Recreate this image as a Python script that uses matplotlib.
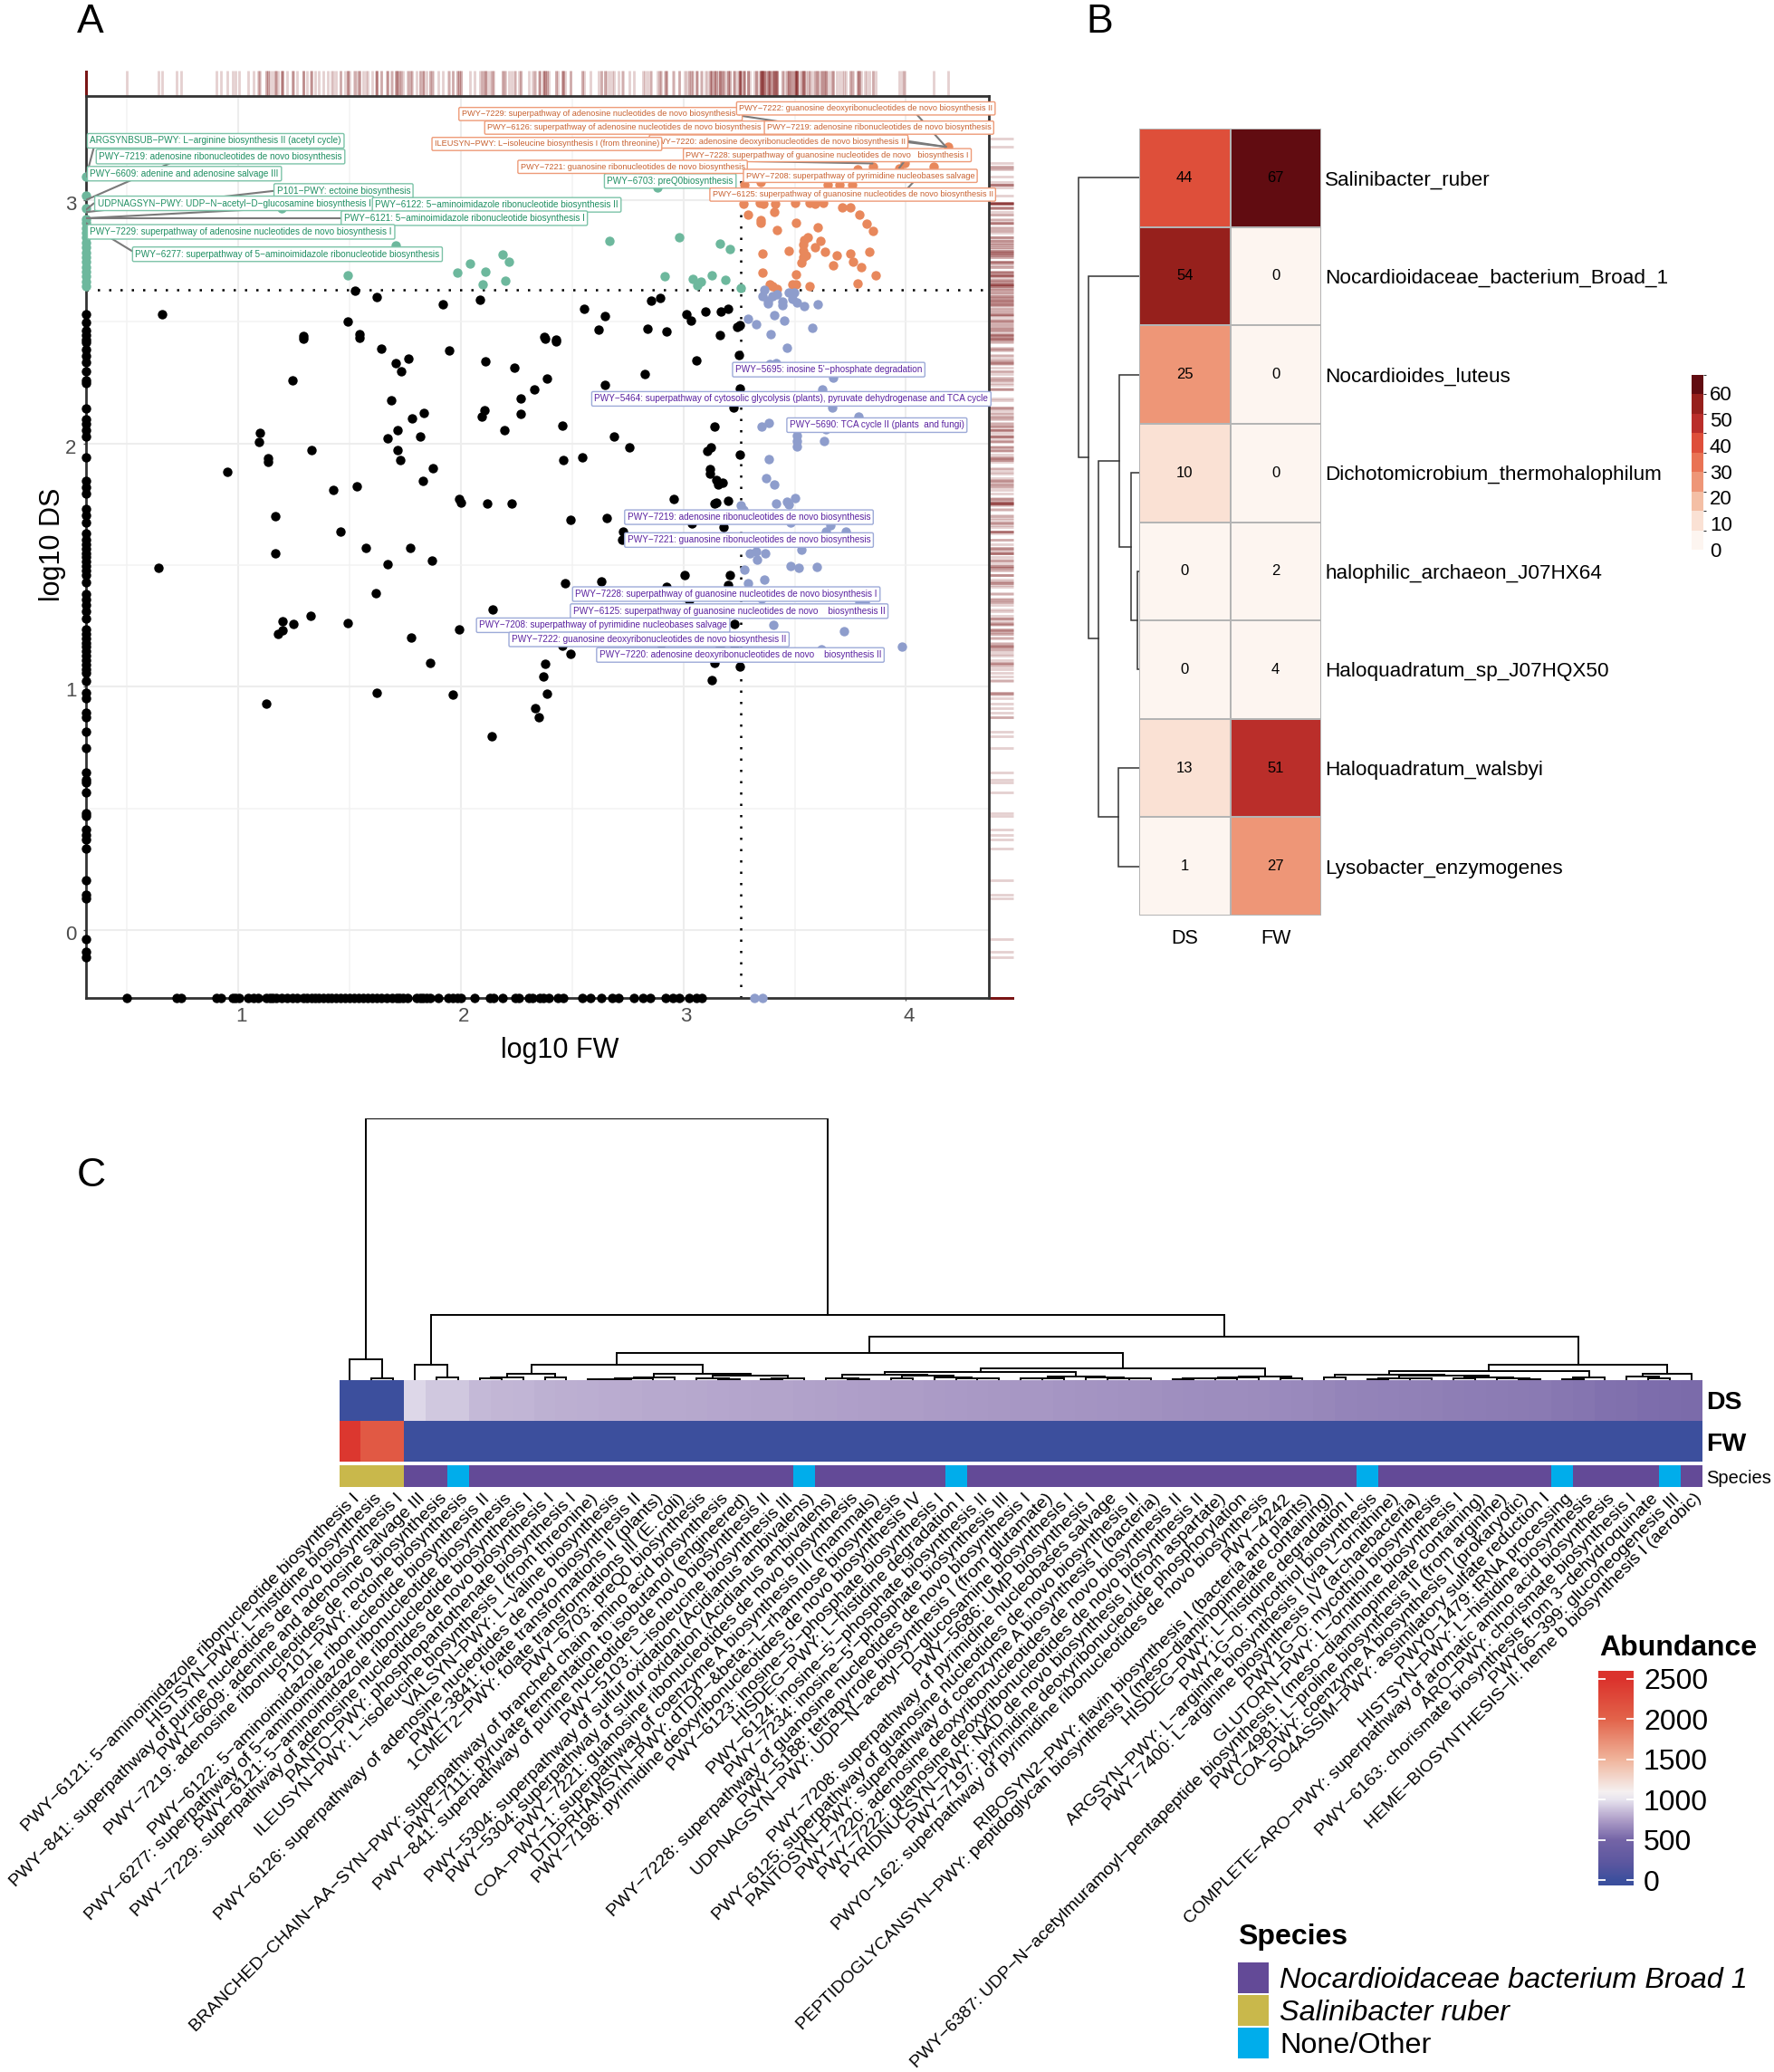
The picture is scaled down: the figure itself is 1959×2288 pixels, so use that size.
import numpy as np
import matplotlib
matplotlib.use("Agg")
import matplotlib.pyplot as plt
from matplotlib.colors import ListedColormap, BoundaryNorm, LinearSegmentedColormap, Normalize
from matplotlib.patches import Rectangle
from matplotlib.ticker import MultipleLocator
from matplotlib.cm import ScalarMappable
from matplotlib.transforms import ScaledTranslation

plt.rcParams['font.family'] = ['Liberation Sans', 'DejaVu Sans']

W, H = 1959, 2288

# ---- panel A: pathways, log10 FW against log10 DS
xmin, xmax = 0.315, 4.373
ymin, ymax = -0.278, 3.427
x_cut = 3.258
y_cut = 2.632

black_pts = [
    (0.64,1.49),(0.95,1.885),(1.244,2.259),(1.096,2.043),(1.094,2.007),(1.134,1.94),(1.133,1.924),(1.328,1.971),
    (1.428,1.808),(1.533,1.824),(1.167,1.701),(1.165,1.55),(1.457,1.637),(1.573,1.57),(1.672,1.502),(1.772,1.57),
    (1.871,1.52),(1.619,1.385),(1.775,1.203),(1.862,1.097),(1.623,0.975),(1.962,0.969),(2.138,0.797),(1.123,0.932),
    (1.325,1.29),(1.249,1.259),(1.2,1.27),(1.2,1.234),(1.179,1.216),(1.49,1.261),(1.993,1.237),(2.144,1.318),
    (1.993,1.772),(2.001,1.757),(2.117,1.754),(1.873,1.899),(1.831,1.845),(1.726,1.933),(1.715,1.971),(1.671,2.02),
    (1.714,2.054),(1.818,2.027),(1.78,2.104),(1.835,2.126),(1.686,2.176),(1.707,2.329),(1.73,2.297),(1.764,2.349),
    (1.642,2.39),(1.946,2.381),(2.11,2.338),(2.107,2.138),(2.093,2.112),(2.195,2.056),(1.291,2.431),(1.545,2.435),
    (0.655,2.53),(1.524,2.627),(1.623,2.60),(1.92,2.571),(2.086,2.589),(1.493,2.50),(1.543,2.447),(1.291,2.441),
    (2.555,2.552),(2.646,2.524),(2.617,2.467),(2.376,2.436),(2.427,2.427),(2.854,2.588),(2.897,2.598),(3.012,2.529),
    (3.032,2.503),(3.099,2.542),(3.168,2.54),(3.202,2.552),(3.243,2.477),(3.255,2.486),(2.837,2.47),(2.926,2.458),
    (3.166,2.444),(2.378,2.429),(2.428,2.419),(2.239,2.31),(2.385,2.265),(2.33,2.221),(2.267,2.183),(2.268,2.122),
    (2.455,2.072),(2.647,2.242),(2.827,2.284),(2.686,2.028),(2.759,1.983),(3.058,2.341),(3.249,2.363),(3.255,2.227),
    (3.225,2.148),(3.139,2.069),(3.124,1.985),(3.108,1.969),(3.255,1.955),(2.46,1.932),(2.546,1.942),(3.119,1.896),
    (3.121,1.875),(3.146,1.848),(3.177,1.837),(3.156,1.831),(2.23,1.753),(2.956,1.77),(3.139,1.753),(3.146,1.756),
    (3.199,1.764),(2.493,1.685),(2.656,1.695),(3.039,1.67),(3.181,1.656),(2.729,1.637),(2.725,1.606),(3.004,1.461),
    (3.209,1.46),(3.202,1.42),(2.47,1.426),(2.631,1.434),(2.923,1.41),(3.026,1.355),(2.353,1.225),(2.898,1.176),
    (2.456,1.17),(3.23,1.26),(2.893,1.28),(3.176,1.28),(3.164,1.17),(3.229,1.157),(2.493,1.135),(3.139,1.099),
    (3.254,1.085),(2.38,1.094),(2.37,1.042),(3.126,1.027),(2.388,0.973),(2.332,0.912),(2.351,0.876),
]

# pathways absent from FW sit on the left edge, absent from DS on the bottom edge
black_left_y = [-0.11,-0.09,-0.036,0.13,0.147,0.207,0.335,0.372,0.39,0.414,0.47,0.48,0.565,0.606,0.62,0.647,0.75,
    0.817,0.876,0.894,0.955,0.975,1.023,1.056,1.074,1.092,1.11,1.128,1.146,1.164,1.182,1.2,1.218,1.236,1.28,1.31,
    1.335,1.36,1.38,1.428,1.46,1.478,1.496,1.514,1.532,1.55,1.568,1.586,1.604,1.63,1.676,1.703,1.73,1.793,1.82,
    1.847,1.942,2.027,2.054,2.081,2.1,2.144,2.246,2.26,2.297,2.333,2.36,2.387,2.414,2.426,2.444,2.463,2.496,2.531]
black_bottom_x = [0.5,0.724,0.744,0.9,0.92,0.974,0.988,1.004,1.042,1.069,1.089,1.125,1.14,1.155,1.17,1.195,1.22,
    1.245,1.265,1.29,1.31,1.33,1.345,1.36,1.38,1.4,1.42,1.44,1.46,1.48,1.5,1.52,1.54,1.56,1.58,1.6,1.62,1.64,1.665,
    1.69,1.71,1.725,1.74,1.76,1.8,1.815,1.83,1.845,1.86,1.9,1.945,1.965,1.985,2.0,2.06,2.13,2.146,2.187,2.245,2.262,
    2.304,2.32,2.353,2.37,2.395,2.436,2.461,2.544,2.583,2.631,2.68,2.71,2.777,2.818,2.852,2.918,2.951,2.981,3.026,
    3.059,3.084]

green_pts = [
    (1.493,2.69),(1.709,2.812),(1.983,2.703),(2.04,2.738),(2.109,2.705),(2.189,2.777),(2.217,2.745),(2.198,2.668),
    (2.098,2.652),(2.666,2.832),(1.194,2.964),(2.882,3.05),(2.983,2.848),(3.164,2.82),(3.207,2.80),(2.916,2.688),
    (3.041,2.676),(3.08,2.664),(3.063,2.65),(3.127,2.691),(3.19,2.671),(3.257,2.638),
]
green_left_y = [2.645,2.665,2.685,2.705,2.725,2.745,2.765,2.785,2.805,2.825,2.845,2.865,2.885,2.905,2.92,2.964,
    3.017,3.095]

orange_pts = [
    (3.272,2.986),(3.345,2.989),(3.359,2.985),(3.414,2.985),(3.504,2.989),(3.566,2.989),(3.593,2.983),(3.629,2.989),
    (3.275,3.063),(3.349,3.075),(3.648,3.061),(3.703,3.061),(3.759,3.061),(3.853,3.137),(3.783,3.125),(3.993,3.152),
    (4.126,3.135),(3.971,3.131),(3.99,3.252),(4.19,3.22),(3.291,2.939),(3.408,2.949),(3.347,2.917),(3.347,2.905),
    (3.506,2.906),(3.422,2.876),(3.605,2.889),(3.714,2.97),(3.752,2.968),(3.791,2.938),(3.822,2.901),(3.853,2.871),
    (3.559,2.848),(3.543,2.834),(3.538,2.818),(3.614,2.83),(3.591,2.807),(3.472,2.791),(3.538,2.791),(3.552,2.772),
    (3.54,2.764),(3.532,2.744),(3.636,2.786),(3.691,2.772),(3.75,2.781),(3.762,2.748),(3.673,2.733),(3.8,2.724),
    (3.834,2.787),(3.865,2.692),(3.355,2.778),(3.355,2.702),(3.508,2.696),(3.491,2.655),(3.506,2.655),(3.566,2.647),
    (3.781,2.658),(3.386,2.652),(3.4,2.645),(3.42,2.636),
]

blue_pts = [
    (3.362,2.632),(3.357,2.605),(3.379,2.587),(3.381,2.574),(3.4,2.605),(3.42,2.611),(3.446,2.583),(3.446,2.566),
    (3.472,2.618),(3.497,2.618),(3.489,2.595),(3.509,2.58),(3.542,2.563),(3.602,2.57),(3.292,2.512),(3.325,2.489),
    (3.41,2.525),(3.455,2.505),(3.579,2.474),(3.393,2.447),(3.466,2.392),(3.387,2.325),(3.417,2.329),(3.674,2.269),
    (3.624,2.22),(3.667,2.148),(3.787,2.111),(3.352,2.068),(3.382,2.083),(3.641,2.059),(3.511,2.032),(3.511,2.01),
    (3.632,2.011),(3.511,1.988),(3.385,1.936),(3.373,1.858),(3.407,1.833),(3.259,1.747),(3.27,1.728),(3.415,1.753),
    (3.466,1.759),(3.475,1.748),(3.5,1.774),(3.483,1.674),(3.659,1.664),(3.641,1.638),(3.729,1.637),(3.299,1.548),
    (3.328,1.557),(3.368,1.55),(3.332,1.524),(3.531,1.565),(3.481,1.496),(3.518,1.489),(3.598,1.493),(3.275,1.48),
    (3.363,1.44),(3.29,1.425),(3.35,1.361),(3.79,1.349),(3.815,1.349),(3.403,1.253),(3.722,1.229),(3.981,1.164),
    (3.619,1.155),
]
blue_bottom_x = [3.318,3.355]

# label text, left edge x, centre y
green_labels = [
    ("ARGSYNBSUB−PWY: L−arginine biosynthesis II (acetyl cycle)", 0.319, 3.243),
    ("PWY−7219: adenosine ribonucleotides de novo biosynthesis", 0.359, 3.178),
    ("PWY−6609: adenine and adenosine salvage III", 0.319, 3.108),
    ("P101−PWY: ectoine biosynthesis", 1.158, 3.037),
    ("UDPNAGSYN−PWY: UDP−N−acetyl−D−glucosamine biosynthesis I", 0.352, 2.986),
    ("PWY−6122: 5−aminoimidazole ribonucleotide biosynthesis II", 1.6, 2.98),
    ("PWY−6121: 5−aminoimidazole ribonucleotide biosynthesis I", 1.46, 2.925),
    ("PWY−7229: superpathway of adenosine nucleotides de novo biosynthesis I", 0.319, 2.869),
    ("PWY−6277: superpathway of 5−aminoimidazole ribonucleotide biosynthesis", 0.522, 2.777),
    ("PWY−6703: preQ0biosynthesis", 2.643, 3.078),
]
orange_labels = [
    ("PWY−7229: superpathway of adenosine nucleotides de novo biosynthesis I", 1.988, 3.353),
    ("PWY−6126: superpathway of adenosine nucleotides de novo biosynthesis II", 2.104, 3.297),
    ("PWY−7220: adenosine deoxyribonucleotides de novo biosynthesis II", 2.844, 3.24),
    ("ILEUSYN−PWY: L−isoleucine biosynthesis I (from threonine)", 1.867, 3.23),
    ("PWY−7222: guanosine deoxyribonucleotides de novo biosynthesis II", 3.236, 3.376),
    ("PWY−7219: adenosine ribonucleotides de novo biosynthesis", 3.361, 3.297),
    ("PWY−7228: superpathway of guanosine nucleotides de novo   biosynthesis I", 2.997, 3.184),
    ("PWY−7221: guanosine ribonucleotides de novo biosynthesis", 2.253, 3.136),
    ("PWY−7208: superpathway of pyrimidine nucleobases salvage", 3.267, 3.099),
    ("PWY−6125: superpathway of guanosine nucleotides de novo biosynthesis II", 3.116, 3.022),
]
purple_labels = [
    ("PWY−5695: inosine 5'−phosphate degradation", 3.219, 2.303),
    ("PWY−5464: superpathway of cytosolic glycolysis (plants), pyruvate dehydrogenase and TCA cycle", 2.586, 2.183),
    ("PWY−5690: TCA cycle II (plants  and fungi)", 3.463, 2.075),
    ("PWY−7219: adenosine ribonucleotides de novo biosynthesis", 2.734, 1.697),
    ("PWY−7221: guanosine ribonucleotides de novo biosynthesis", 2.734, 1.603),
    ("PWY−7228: superpathway of guanosine nucleotides de novo biosynthesis I", 2.5, 1.381),
    ("PWY−6125: superpathway of guanosine nucleotides de novo    biosynthesis II", 2.49, 1.311),
    ("PWY−7208: superpathway of pyrimidine nucleobases salvage", 2.068, 1.253),
    ("PWY−7222: guanosine deoxyribonucleotides de novo biosynthesis II", 2.214, 1.195),
    ("PWY−7220: adenosine deoxyribonucleotides de novo    biosynthesis II", 2.608, 1.131),
]
# connector segments x0, y0, x1, y1
label_links = [
    (0.35,3.215,0.315,3.095),(0.69,3.15,0.315,3.0),(1.158,3.037,0.315,2.95),(1.158,2.965,0.315,2.925),
    (1.46,2.925,0.315,2.925),(0.522,2.79,0.315,2.905),(0.35,2.986,0.315,2.96),
    (3.25,3.347,4.18,3.218),(4.05,3.35,4.18,3.218),(3.98,3.24,4.18,3.218),(3.26,3.16,3.85,3.15),(3.97,3.131,3.99,3.155),
    (4.04,3.08,4.0,3.04),
]

# ---- panel B: species counts
species_b = ["Salinibacter_ruber","Nocardioidaceae_bacterium_Broad_1","Nocardioides_luteus",
             "Dichotomicrobium_thermohalophilum","halophilic_archaeon_J07HX64","Haloquadratum_sp_J07HQX50",
             "Haloquadratum_walsbyi","Lysobacter_enzymogenes"]
counts_ds = [44,54,25,10,0,0,13,1]
counts_fw = [67,0,0,0,2,4,51,27]
reds = ["#FDF5F0","#FAE1D4","#F4BFA5","#EE9677","#E97354","#DE4F3A","#BA2E2A","#96201C","#610C11"]
# rows joined at distance, in the order (height, left, right)
tree_b = (67,0,(56,1,(45,(21.7,2,(9,3,(1.7,4,5))),(23,6,7))))

# ---- panel C: abundance of pathways
pathways = [
    "PWY−6121: 5−aminoimidazole ribonucleotide biosynthesis I",
    "HISTSYN−PWY: L−histidine biosynthesis",
    "PWY−841: superpathway of purine nucleotides de novo biosynthesis I",
    "PWY−6609: adenine and adenosine salvage III",
    "PWY−7219: adenosine ribonucleotides de novo biosynthesis",
    "P101−PWY: ectoine biosynthesis",
    "PWY−6122: 5−aminoimidazole ribonucleotide biosynthesis II",
    "PWY−6277: superpathway of 5−aminoimidazole ribonucleotide biosynthesis",
    "PWY−6121: 5−aminoimidazole ribonucleotide biosynthesis I",
    "PWY−7229: superpathway of adenosine nucleotides de novo biosynthesis I",
    "PANTO−PWY: phosphopantothenate biosynthesis I",
    "ILEUSYN−PWY: L−isoleucine biosynthesis I (from threonine)",
    "VALSYN−PWY: L−valine biosynthesis",
    "PWY−6126: superpathway of adenosine nucleotides de novo biosynthesis II",
    "PWY−3841: folate transformations II (plants)",
    "1CMET2−PWY: folate transformations III (E. coli)",
    "PWY−6703: preQ0 biosynthesis",
    "BRANCHED−CHAIN−AA−SYN−PWY: superpathway of branched chain amino acid biosynthesis",
    "PWY−7111: pyruvate fermentation to isobutanol (engineered)",
    "PWY−841: superpathway of purine nucleotides de novo biosynthesis II",
    "PWY−5103: L−isoleucine biosynthesis III",
    "PWY−5304: superpathway of sulfur oxidation (Acidianus ambivalens)",
    "PWY−5304: superpathway of sulfur oxidation (Acidianus ambivalens)",
    "PWY−7221: guanosine ribonucleotides de novo biosynthesis",
    "COA−PWY−1: superpathway of coenzyme A biosynthesis III (mammals)",
    "DTDPRHAMSYN−PWY: dTDP−&beta;−L−rhamnose biosynthesis",
    "PWY−7198: pyrimidine deoxyribonucleotides de novo biosynthesis IV",
    "PWY−6123: inosine−5'−phosphate biosynthesis I",
    "HISDEG−PWY: L−histidine degradation I",
    "PWY−6124: inosine−5'−phosphate biosynthesis II",
    "PWY−7234: inosine−5'−phosphate biosynthesis III",
    "PWY−7228: superpathway of guanosine nucleotides de novo biosynthesis I",
    "PWY−5188: tetrapyrrole biosynthesis I (from glutamate)",
    "UDPNAGSYN−PWY: UDP−N−acetyl−D−glucosamine biosynthesis I",
    "PWY−5686: UMP biosynthesis I",
    "PWY−7208: superpathway of pyrimidine nucleobases salvage",
    "PWY−6125: superpathway of guanosine nucleotides de novo biosynthesis II",
    "PANTOSYN−PWY: superpathway of coenzyme A biosynthesis I (bacteria)",
    "PWY−7220: adenosine deoxyribonucleotides de novo biosynthesis II",
    "PWY−7222: guanosine deoxyribonucleotides de novo biosynthesis II",
    "PYRIDNUCSYN−PWY: NAD de novo biosynthesis I (from aspartate)",
    "PWY−7197: pyrimidine deoxyribonucleotide phosphorylation",
    "PWY0−162: superpathway of pyrimidine ribonucleotides de novo biosynthesis",
    "PWY−4242",
    "RIBOSYN2−PWY: flavin biosynthesis I (bacteria and plants)",
    "PEPTIDOGLYCANSYN−PWY: peptidoglycan biosynthesis I (meso−diaminopimelate containing)",
    "HISDEG−PWY: L−histidine degradation I",
    "PWY1G−0: mycothiol biosynthesis",
    "ARGSYN−PWY: L−arginine biosynthesis I (via L−ornithine)",
    "PWY−7400: L−arginine biosynthesis IV (archaebacteria)",
    "PWY1G−0: mycothiol biosynthesis",
    "GLUTORN−PWY: L−ornithine biosynthesis I",
    "PWY−6387: UDP−N−acetylmuramoyl−pentapeptide biosynthesis I (meso−diaminopimelate containing)",
    "PWY−4981: L−proline biosynthesis II (from arginine)",
    "COA−PWY: coenzyme A biosynthesis I (prokaryotic)",
    "SO4ASSIM−PWY: assimilatory sulfate reduction I",
    "PWY0−1479: tRNA processing",
    "HISTSYN−PWY: L−histidine biosynthesis",
    "COMPLETE−ARO−PWY: superpathway of aromatic amino acid biosynthesis",
    "ARO−PWY: chorismate biosynthesis I",
    "PWY−6163: chorismate biosynthesis from 3−dehydroquinate",
    "PWY66−399: gluconeogenesis III",
    "HEME−BIOSYNTHESIS−II: heme b biosynthesis I (aerobic)",
]
abund_ds = [0,0,0,960,900,900,850,840,835,820,815,805,800,795,790,790,785,780,775,770,770,765,760,755,750,745,745,740,
            735,730,725,720,720,715,710,705,700,695,690,685,680,675,670,665,660,650,640,635,630,625,620,615,610,605,
            600,595,585,575,560,550,540,535,530]
abund_fw = [2450,2100,2100] + [0]*60
species_salinibacter = [0,1,2]
species_none = [5,21,28,47,56,61]
species_names = ["Nocardioidaceae bacterium Broad 1","Salinibacter ruber","None/Other"]
species_cols = ["#634A97","#C9B84B","#00ADEB"]
abund_stops = [(-64,"#3A4E9C"),(0,"#3C4F9D"),(200,"#5A569F"),(500,"#7464A6"),(750,"#AE9EC8"),(1000,"#E7E3EE"),
               (1100,"#F5F0F0"),(1500,"#F0B49B"),(2000,"#E2634A"),(2500,"#DB322C"),(2600,"#DB322C")]
abund_ticks = [0,500,1000,1500,2000,2500]

tree_c = (198,
    (16,0,(1.1,1,2)),
    (49,
        (11.8,3,(2,4,5)),
        (32.9,
            (20.6,
                (11.8,
                    (5,(2.3,(1.1,6,7),8),(2,9,10)),
                    (5,(2.3,(1.1,(0.9,(0.7,11,12),13),14),15),
                       (3.4,(1.6,16,(0.9,17,18)),(1.6,(0.9,19,20),21)))),
                (9.1,
                    (6.2,
                        (3.9,(1.6,22,(0.9,23,24)),
                             (3.2,(1.1,25,26),(2.3,27,(1.6,28,(1.1,29,30))))),
                        (2.7,(1.6,(1.1,31,32),33),(2.1,34,(1.6,35,(1.1,36,37))))),
                    (2.7,(2.1,(1.6,(1.1,(0.9,38,39),40),41),42),(1.6,43,44)))),
            (11.8,
                (6.6,
                    (3.9,(2.3,45,46),
                         (3.4,(1.6,(0.9,47,48),(1.1,49,50)),(2.1,(1.1,51,52),(1.6,53,(0.9,54,55))))),
                    (2.3,(0.9,56,57),58)),
                (5,(2.7,59,(1.1,60,61)),62)))))


def fx(x):
    return x/W


def fy(y):
    return 1-y/H


def axes_px(fig, left, top, right, bottom):
    return fig.add_axes([fx(left), fy(bottom), (right-left)/W, (bottom-top)/H])


def walk(node, segs):
    # a leaf is the row or column number, a join is (height, left, right)
    if isinstance(node, int):
        return node+0.5, 0
    h, a, b = node
    pa, ha = walk(a, segs)
    pb, hb = walk(b, segs)
    segs.append(([pa,pa,pb,pb],[ha,h,h,hb]))
    return (pa+pb)/2, h


fig = plt.figure(figsize=(W/100, H/100), dpi=100)

# panel A
ax = axes_px(fig, 95, 106, 1092, 1102)
ax.set_xlim(xmin, xmax)
ax.set_ylim(ymin, ymax)
ax.xaxis.set_major_locator(MultipleLocator(1))
ax.yaxis.set_major_locator(MultipleLocator(1))
ax.xaxis.set_minor_locator(MultipleLocator(0.5))
ax.yaxis.set_minor_locator(MultipleLocator(0.5))
ax.grid(which='major', color='#EDEDED', lw=1.5)
ax.grid(which='minor', color='#F2F2F2', lw=1.1)
ax.set_axisbelow(True)
ax.tick_params(which='minor', length=0)
ax.tick_params(which='major', length=2.5, width=1, color='#555555', labelcolor='#4D4D4D', labelsize=16, pad=5)
for s in ax.spines.values():
    s.set_linewidth(2)
    s.set_color('#333333')
# the tick numbers sit a little off their grid lines in the original
for lab in ax.get_xticklabels():
    lab.set_transform(lab.get_transform()+ScaledTranslation(0.03, 0, fig.dpi_scale_trans))
for lab in ax.get_yticklabels():
    lab.set_transform(lab.get_transform()+ScaledTranslation(0, -0.03, fig.dpi_scale_trans))

black = np.array(black_pts)
green = np.array(green_pts)
orange = np.array(orange_pts)
blue = np.array(blue_pts)
all_x = np.concatenate([black[:,0], green[:,0], orange[:,0], blue[:,0], black_bottom_x, blue_bottom_x,
                        np.full(len(black_left_y)+len(green_left_y), xmin)])
all_y = np.concatenate([black[:,1], green[:,1], orange[:,1], blue[:,1], black_left_y, green_left_y,
                        np.full(len(black_bottom_x)+len(blue_bottom_x), ymin)])

ax.vlines(all_x, 1.0, 1.028, transform=ax.get_xaxis_transform(), color='#7A1515', alpha=0.2, lw=2, clip_on=False)
ax.hlines(all_y, 1.0, 1.027, transform=ax.get_yaxis_transform(), color='#7A1515', alpha=0.2, lw=2, clip_on=False)

ax.axvline(x_cut, color='black', lw=1.8, ls=(0,(1,4)), zorder=1.5)
ax.axhline(y_cut, color='black', lw=1.8, ls=(0,(1,4)), zorder=1.5)

ms = 56
ax.scatter(black[:,0], black[:,1], s=ms, c='black', lw=0, zorder=3)
ax.scatter(np.full(len(black_left_y), xmin), black_left_y, s=ms, c='black', lw=0, zorder=3, clip_on=False)
ax.scatter(black_bottom_x, np.full(len(black_bottom_x), ymin), s=ms, c='black', lw=0, zorder=3, clip_on=False)
ax.scatter(green[:,0], green[:,1], s=ms, c='#6DB89D', lw=0, zorder=3)
ax.scatter(np.full(len(green_left_y), xmin), green_left_y, s=ms, c='#6DB89D', lw=0, zorder=3, clip_on=False)
ax.scatter(orange[:,0], orange[:,1], s=ms, c='#E8885C', lw=0, zorder=3)
ax.scatter(blue[:,0], blue[:,1], s=ms, c='#8E9DCC', lw=0, zorder=3)
ax.scatter(blue_bottom_x, np.full(len(blue_bottom_x), ymin), s=ms, c='#8E9DCC', lw=0, zorder=3, clip_on=False)

for x0, y0, x1, y1 in label_links:
    ax.plot([x0,x1], [y0,y1], color='#7A7A7A', lw=1.5, zorder=4, solid_capstyle='round')


def put_labels(items, text_col, edge_col, size):
    for txt, x, y in items:
        ax.annotate(txt, (x,y), xytext=(2.5,0), textcoords='offset points', va='center', ha='left',
                    fontsize=size, color=text_col, zorder=5,
                    bbox=dict(boxstyle='round,pad=0.3,rounding_size=0.15', fc='white', ec=edge_col, lw=1.0))


put_labels(green_labels, '#1F8F62', '#7CC3A8', 7.2)
put_labels(orange_labels, '#C8602F', '#EE9B78', 6.6)
put_labels(purple_labels, '#5A22A0', '#9DAAD8', 7.2)

ax.set_xlabel('log10 FW', fontsize=22, x=0.525, labelpad=8)
ax.set_ylabel('log10 DS', fontsize=22, y=0.503, labelpad=-1)

# panel B
ax_b = axes_px(fig, 1258, 142, 1459, 1011)
vals_b = np.column_stack([counts_ds, counts_fw])
norm_b = BoundaryNorm(np.linspace(0, 67, 10), 9)
cmap_b = ListedColormap(reds)
mesh_b = ax_b.pcolormesh(vals_b, cmap=cmap_b, norm=norm_b, edgecolors='#B4B4B4', linewidth=1.4)
ax_b.set_ylim(8, 0)
for r in range(8):
    for c in range(2):
        ax_b.text(c+0.5, r+0.5, str(vals_b[r,c]), ha='center', va='center', fontsize=12, color='black')
ax_b.yaxis.tick_right()
ax_b.set_yticks(np.arange(8)+0.5, species_b, fontsize=16.2)
ax_b.set_xticks([0.5,1.5], ['DS','FW'], fontsize=15.5)
ax_b.tick_params(length=0, axis='y', pad=3)
ax_b.tick_params(length=0, axis='x', pad=11)
for s in ax_b.spines.values():
    s.set_visible(False)

ax_tb = axes_px(fig, 1188, 142, 1258, 1011)
segs_b = []
walk(tree_b, segs_b)
for xs, hs in segs_b:
    ax_tb.plot(hs, xs, color='#333333', lw=1.1, solid_joinstyle='miter')
ax_tb.set_xlim(70, 0)
ax_tb.set_ylim(8, 0)
ax_tb.axis('off')

cax_b = axes_px(fig, 1868, 414, 1881, 607)
cb_b = fig.colorbar(mesh_b, cax=cax_b, spacing='proportional', ticks=[0,10,20,30,40,50,60])
cb_b.outline.set_visible(False)
cb_b.dividers.set_visible(False)
cax_b.tick_params(length=0, labelsize=16, pad=5)

# panel C
ax_c = axes_px(fig, 374.5, 1524, 1880, 1614)
vals_c = np.vstack([abund_ds, abund_fw])
cmap_c = LinearSegmentedColormap.from_list('abund', [((v+64)/2664, c) for v, c in abund_stops], N=512)
norm_c = Normalize(-64, 2600)
ax_c.pcolormesh(vals_c, cmap=cmap_c, norm=norm_c, linewidth=0)
ax_c.set_ylim(2, 0)
ax_c.set_xticks([])
ax_c.yaxis.tick_right()
ax_c.set_yticks([0.5,1.5], ['DS','FW'], fontsize=20.5, fontweight='bold')
ax_c.tick_params(length=0, axis='y', pad=3)
for s in ax_c.spines.values():
    s.set_visible(False)

ax_s = axes_px(fig, 374.5, 1618, 1880, 1642)
sp = np.zeros(63, dtype=int)
sp[species_salinibacter] = 1
sp[species_none] = 2
ax_s.pcolormesh(sp.reshape(1,-1), cmap=ListedColormap(species_cols), vmin=0, vmax=2, linewidth=0)
ax_s.yaxis.tick_right()
ax_s.set_yticks([0.5], ['Species'], fontsize=14.5)
ax_s.set_xticks(np.arange(63)+0.5, pathways, rotation=45, ha='right', va='top', rotation_mode='anchor', fontsize=14)
ax_s.tick_params(length=0, axis='x', pad=3)
ax_s.tick_params(length=0, axis='y', pad=3)
for s in ax_s.spines.values():
    s.set_visible(False)
for lab in ax_s.get_xticklabels():
    lab.set_transform(lab.get_transform()+ScaledTranslation(0.025, 0, fig.dpi_scale_trans))

ax_tc = axes_px(fig, 374.5, 1235, 1880, 1524)
segs_c = []
walk(tree_c, segs_c)
for xs, hs in segs_c:
    ax_tc.plot(xs, hs, color='black', lw=1.4, solid_joinstyle='miter')
ax_tc.set_xlim(0, 63)
ax_tc.set_ylim(0, 198)
ax_tc.axis('off')

cax_c = axes_px(fig, 1765, 1845, 1804, 2082)
cb_c = fig.colorbar(ScalarMappable(norm=norm_c, cmap=cmap_c), cax=cax_c, ticks=abund_ticks)
cb_c.outline.set_visible(False)
cax_c.tick_params(direction='in', left=True, right=True, length=6, width=1.3, color='white', labelsize=23, pad=8)

fig.text(fx(1766), fy(1820), 'Abundance', fontsize=23, fontweight='bold', va='center', ha='left')
fig.text(fx(1367), fy(2139), 'Species', fontsize=23, fontweight='bold', va='center', ha='left')
legend_y = [2167, 2203, 2239]
for yy, name, col in zip(legend_y, species_names, species_cols):
    fig.add_artist(Rectangle((fx(1367), fy(yy+34)), 34/W, 34/H, transform=fig.transFigure, fc=col, ec='none'))
    fig.text(fx(1413), fy(yy+20), name, fontsize=23.3, va='center', ha='left',
             style='normal' if name == 'None/Other' else 'italic')

fig.text(fx(85), fy(25), 'A', fontsize=32, va='center', ha='left')
fig.text(fx(1199), fy(25), 'B', fontsize=32, va='center', ha='left')
fig.text(fx(85), fy(1299), 'C', fontsize=32, va='center', ha='left')

plt.savefig('out.png', dpi=100)
